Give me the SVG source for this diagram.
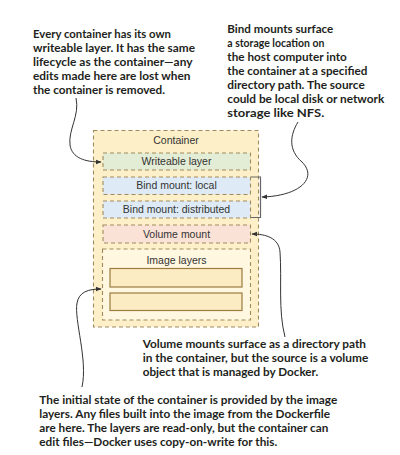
<svg xmlns="http://www.w3.org/2000/svg" width="400" height="455" viewBox="0 0 400 455">
  <defs>
    <marker id="ah" viewBox="0 0 10 10" refX="9" refY="5" markerWidth="6" markerHeight="6" orient="auto" markerUnits="userSpaceOnUse">
      <path d="M0,1 L10,5 L0,9 z" fill="#333"/>
    </marker>
    <style>
      .dash { stroke: #a08a5c; stroke-width: 1.1; stroke-dasharray: 4 3; }
      .lbl { font-family: "Liberation Sans", Arial, sans-serif; font-size: 10.5px; fill: #333; text-anchor: middle; }
      .note { font-family: Lato, "Open Sans", sans-serif; font-weight: bold; font-size: 12px; fill: #231f20; }
      .conn { fill: none; stroke: #333; stroke-width: 1; marker-end: url(#ah); }
    </style>
  </defs>
  <rect width="400" height="455" fill="#fff"/>

  <g id="container">
    <rect x="93.5" y="130.5" width="165" height="196.5" fill="#fdf0c9" class="dash"/>
    <text x="176" y="143.5" class="lbl">Container</text>
  </g>
  <g id="writeable-layer">
    <rect x="103" y="153" width="147.5" height="17" fill="#e3ecd5" class="dash"/>
    <text x="176.5" y="165" class="lbl">Writeable layer</text>
  </g>
  <g id="bind-local">
    <rect x="103" y="177" width="147.5" height="17.5" fill="#deebf6" class="dash"/>
    <text x="176.5" y="188.8" class="lbl">Bind mount: local</text>
  </g>
  <g id="bind-distributed">
    <rect x="103" y="201" width="147.5" height="17" fill="#deebf6" class="dash"/>
    <text x="176.5" y="212.8" class="lbl">Bind mount: distributed</text>
  </g>
  <g id="volume-mount">
    <rect x="103" y="225" width="147.5" height="18" fill="#fbe2d7" class="dash"/>
    <text x="176.5" y="237.5" class="lbl">Volume mount</text>
  </g>
  <g id="image-layers">
    <rect x="102.5" y="249" width="148" height="71" fill="#fff7e0" class="dash"/>
    <text x="176.5" y="263.5" class="lbl">Image layers</text>
    <rect x="110" y="268.5" width="132" height="18.5" fill="#fcecc4" stroke="#9c7b3e" stroke-width="1.2"/>
    <rect x="110" y="293" width="132" height="17.5" fill="#fcecc4" stroke="#9c7b3e" stroke-width="1.2"/>
  </g>

  <g id="connectors">
    <path d="M251,177 H260.5 V217.5 H251" fill="none" stroke="#666" stroke-width="1.2"/>
    <path class="conn" d="M76,98 C80,115 68,130 70,145 C72,158 85,162 101,162"/>
    <path class="conn" d="M298,122 C290,135 288,150 302,162 C318,178 300,196 262,197"/>
    <path class="conn" d="M285,337 C278,310 282,280 280,252 C279,238 266,234 252,234"/>
    <path class="conn" d="M82,387 C88,360 74,320 77,303 C79,292 88,289 101,289"/>
  </g>

  <g id="note-writeable">
    <text class="note" x="33" y="37.5" textLength="138" lengthAdjust="spacingAndGlyphs">Every container has its own</text>
    <text class="note" x="33" y="51.5" textLength="162" lengthAdjust="spacingAndGlyphs">writeable layer. It has the same</text>
    <text class="note" x="33" y="65.5" textLength="159.5" lengthAdjust="spacingAndGlyphs">lifecycle as the container—any</text>
    <text class="note" x="33" y="79.5" textLength="157.5" lengthAdjust="spacingAndGlyphs">edits made here are lost when</text>
    <text class="note" x="33" y="93.5" textLength="132" lengthAdjust="spacingAndGlyphs">the container is removed.</text>
  </g>
  <g id="note-bind">
    <text class="note" x="227.3" y="32.8" textLength="106" lengthAdjust="spacingAndGlyphs">Bind mounts surface</text>
    <text class="note" x="227.3" y="46.9" textLength="97" lengthAdjust="spacingAndGlyphs">a storage location on</text>
    <text class="note" x="227.3" y="61" textLength="119.5" lengthAdjust="spacingAndGlyphs">the host computer into</text>
    <text class="note" x="227.3" y="75.1" textLength="140" lengthAdjust="spacingAndGlyphs">the container at a specified</text>
    <text class="note" x="227.3" y="89.2" textLength="137.5" lengthAdjust="spacingAndGlyphs">directory path. The source</text>
    <text class="note" x="227.3" y="103.3" textLength="157" lengthAdjust="spacingAndGlyphs">could be local disk or network</text>
    <text class="note" x="227.3" y="117.4" textLength="97" lengthAdjust="spacingAndGlyphs">storage like NFS.</text>
  </g>
  <g id="note-volume">
    <text class="note" x="142.7" y="348" textLength="223.3" lengthAdjust="spacingAndGlyphs">Volume mounts surface as a directory path</text>
    <text class="note" x="142.7" y="362.2" textLength="225.6" lengthAdjust="spacingAndGlyphs">in the container, but the source is a volume</text>
    <text class="note" x="142.7" y="376.3" textLength="175.6" lengthAdjust="spacingAndGlyphs">object that is managed by Docker.</text>
  </g>
  <g id="note-image">
    <text class="note" x="39.3" y="403.5" textLength="298" lengthAdjust="spacingAndGlyphs">The initial state of the container is provided by the image</text>
    <text class="note" x="39.3" y="417.6" textLength="290.7" lengthAdjust="spacingAndGlyphs">layers. Any files built into the image from the Dockerfile</text>
    <text class="note" x="39.3" y="431.7" textLength="289" lengthAdjust="spacingAndGlyphs">are here. The layers are read-only, but the container can</text>
    <text class="note" x="39.3" y="445.8" textLength="238" lengthAdjust="spacingAndGlyphs">edit files—Docker uses copy-on-write for this.</text>
  </g>
</svg>
